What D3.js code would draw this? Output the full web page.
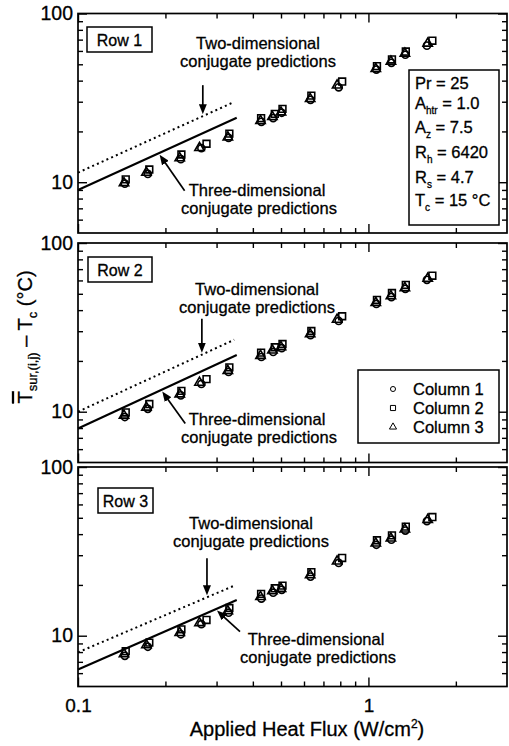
<!DOCTYPE html>
<html><head><meta charset="utf-8">
<script src="https://cdn.jsdelivr.net/npm/d3@7"></script>
<style>body{margin:0;background:#fff;} svg{display:block;font-family:"Liberation Sans",Arial,Helvetica,sans-serif;} svg text{stroke:#000;stroke-width:0.3px;}</style>
</head><body><svg id="c" width="509" height="746"></svg>
<script>
// ---------------- data ----------------
const rowNames = ["Row 1", "Row 2", "Row 3"];
const seriesNames = ["Column 1", "Column 2", "Column 3"];
const xTickLabels = ["0.1", "1"];
const yTickLabels = ["10", "100"];
const xTitle = "Applied Heat Flux (W/cm";
const annot2D = ["Two-dimensional", "conjugate predictions"];
const annot3D = ["Three-dimensional", "conjugate predictions"];

// applied heat flux (W/cm2) for each column's data points
const fluxCol1 = [0.145, 0.174, 0.226, 0.266, 0.330, 0.428, 0.470, 0.503, 0.632, 0.790, 1.065, 1.200, 1.340, 1.590];
const fluxCol2 = [0.146, 0.176, 0.227, 0.277, 0.332, 0.427, 0.476, 0.506, 0.636, 0.812, 1.070, 1.205, 1.345, 1.660];
const fluxCol3 = [0.144, 0.172, 0.224, 0.262, 0.328, 0.425, 0.467, 0.500, 0.630, 0.780, 1.060, 1.195, 1.335, 1.600];

// surface-minus-coolant temperature rise (°C)
const row1Col1 = [9.8, 11.2, 13.7, 15.9, 18.3, 22.8, 24.0, 25.8, 30.8, 36.5, 46.5, 51.0, 57.0, 64.5];
const row1Col2 = [10.4, 11.9, 14.6, 16.9, 19.4, 24.0, 25.4, 27.2, 32.6, 39.5, 48.8, 53.5, 59.5, 69.0];
const row1Col3 = [9.9, 11.4, 13.9, 16.0, 18.5, 23.1, 24.4, 26.0, 31.2, 37.5, 47.0, 52.0, 58.0, 66.5];

const row2Col1 = [9.3, 10.4, 12.5, 14.6, 17.2, 21.1, 22.6, 23.8, 28.4, 34.5, 43.5, 47.8, 53.5, 60.5];
const row2Col2 = [9.9, 11.1, 13.3, 15.6, 18.3, 22.4, 24.1, 25.2, 30.1, 36.8, 46.0, 50.5, 56.5, 64.0];
const row2Col3 = [9.5, 10.6, 12.7, 14.9, 17.5, 21.5, 23.1, 24.2, 28.9, 35.2, 44.3, 48.5, 54.2, 61.5];

const row3Col1 = [7.6, 8.6, 10.2, 11.7, 13.7, 16.6, 18.0, 18.7, 22.4, 27.0, 34.6, 37.1, 42.0, 47.8];
const row3Col2 = [8.1, 9.1, 10.9, 12.4, 14.6, 17.7, 19.1, 19.8, 23.8, 28.9, 36.8, 39.3, 44.3, 50.5];
const row3Col3 = [7.8, 8.8, 10.4, 11.9, 14.0, 17.0, 18.4, 19.0, 22.9, 27.6, 35.3, 37.8, 42.7, 48.7];

// conjugate predictions (end points of straight log-log lines)
const line2DFlux = [0.1, 0.345];
const line2DRow1 = [11.4, 29.9];
const line2DRow2 = [10.0, 26.7];
const line2DRow3 = [7.97, 19.8];
const line3DFlux = [0.1, 0.352];
const line3DRow1 = [9.0, 24.1];
const line3DRow2 = [7.95, 21.7];
const line3DRow3 = [6.3, 16.3];

// parameter box: [symbol, subscript, rest]
const paramMain = ["Pr", "A", "A", "R", "R", "T"];
const paramSub = ["", "htr", "z", "h", "s", "c"];
const paramRest = [" = 25", " = 1.0", " = 7.5", " = 6420", " = 4.7", " = 15 °C"];

// ---------------- layout ----------------
const svg = d3.select("#c");
const X0 = 78, X1 = 507, PH = 219.5;
const tops = [13.5, 243, 467];
const x = d3.scaleLog().domain([0.1, 3]).range([X0, X1]);
const xMajor = [0.1, 1], xMinor = [0.2, 0.3, 0.4, 0.5, 0.6, 0.7, 0.8, 0.9, 2];
const yMajor = [10, 100], yMinor = [6, 7, 8, 9, 20, 30, 40, 50, 60, 70, 80, 90];

const defs = svg.append("defs");
defs.append("marker").attr("id", "ah").attr("viewBox", "0 0 10 8")
  .attr("refX", 6).attr("refY", 4).attr("markerWidth", 10).attr("markerHeight", 8)
  .attr("markerUnits", "userSpaceOnUse").attr("orient", "auto")
  .append("path").attr("d", "M0,0L10,4L0,8z").attr("fill", "#000");

const fluxCols = [fluxCol1, fluxCol2, fluxCol3];
const symbols = [d3.symbolCircle, d3.symbolSquare, d3.symbolTriangle];
const symSize = [40, 46, 38];

const rows = [
  {cols: [row1Col1, row1Col2, row1Col3], l2: line2DRow1, l3: line3DRow1},
  {cols: [row2Col1, row2Col2, row2Col3], l2: line2DRow2, l3: line3DRow2},
  {cols: [row3Col1, row3Col2, row3Col3], l2: line2DRow3, l3: line3DRow3}
];

// label / arrow placement per panel (pixel layout)
const layout = [
  {box: [87, 27, 65, 25], t2: [258, 49, 67], a2: {q: 0.269, dy: -29}, t3: [257, 196, 214], a3: {q: 0.191, dx: 25, dy: 36}},
  {box: [88, 257, 64, 25], t2: [257, 295, 313], a2: {q: 0.267, dy: -34}, t3: [257, 425, 443], a3: {q: 0.195, dx: 23, dy: 32}},
  {box: [98, 488, 55, 25], t2: [251, 529, 547], a2: {q: 0.278, dy: -37}, t3: [316, 645, 663], a3: {q: 0.301, dx: 23, dy: 21}}
];

function lineAt(fx, vals, q) {
  const t = (Math.log(q) - Math.log(fx[0])) / (Math.log(fx[1]) - Math.log(fx[0]));
  return Math.exp(Math.log(vals[0]) + t * (Math.log(vals[1]) - Math.log(vals[0])));
}

function styleAxis(g, fs) {
  g.select(".domain").remove();
  g.attr("font-family", null).attr("font-size", null);
  g.selectAll(".tick line").attr("stroke", "#000").attr("stroke-width", 1.4);
  g.selectAll(".tick text").attr("fill", "#000").attr("font-size", fs);
}

rows.forEach((r, i) => {
  const top = tops[i];
  const y = d3.scaleLog().domain([5, 100]).range([top + PH, top]);
  const g = svg.append("g");
  const L = layout[i];

  // axes (ticks inward)
  const gb = g.append("g").attr("transform", `translate(0,${top + PH})`)
    .call(d3.axisBottom(x).tickValues(xMajor).tickSize(-9).tickPadding(12)
      .tickFormat(d => i === 2 ? xTickLabels[xMajor.indexOf(d)] : ""));
  styleAxis(gb, 19);
  styleAxis(g.append("g").attr("transform", `translate(0,${top + PH})`)
    .call(d3.axisBottom(x).tickValues(xMinor).tickSize(-5).tickFormat("")), 18);
  styleAxis(g.append("g").attr("transform", `translate(0,${top})`)
    .call(d3.axisTop(x).tickValues(xMajor).tickSize(-9).tickFormat("")), 18);
  styleAxis(g.append("g").attr("transform", `translate(0,${top})`)
    .call(d3.axisTop(x).tickValues(xMinor).tickSize(-5).tickFormat("")), 18);
  const gl = g.append("g").attr("transform", `translate(${X0},0)`)
    .call(d3.axisLeft(y).tickValues(yMajor).tickSize(-9).tickPadding(5)
      .tickFormat(d => yTickLabels[yMajor.indexOf(d)]));
  styleAxis(gl, 19.5);
  styleAxis(g.append("g").attr("transform", `translate(${X0},0)`)
    .call(d3.axisLeft(y).tickValues(yMinor).tickSize(-5).tickFormat("")), 18);
  styleAxis(g.append("g").attr("transform", `translate(${X1},0)`)
    .call(d3.axisRight(y).tickValues(yMajor).tickSize(-9).tickFormat("")), 18);
  styleAxis(g.append("g").attr("transform", `translate(${X1},0)`)
    .call(d3.axisRight(y).tickValues(yMinor).tickSize(-5).tickFormat("")), 18);

  // frame
  g.append("rect").attr("x", X0).attr("y", top).attr("width", X1 - X0).attr("height", PH)
    .attr("fill", "none").attr("stroke", "#000").attr("stroke-width", 1.7);

  // prediction lines
  const ln = d3.line().x(d => x(d[0])).y(d => y(d[1]));
  g.append("path").attr("d", ln(line2DFlux.map((f, k) => [f, r.l2[k]])))
    .attr("fill", "none").attr("stroke", "#000").attr("stroke-width", 2).attr("stroke-dasharray", "2,3.2");
  g.append("path").attr("d", ln(line3DFlux.map((f, k) => [f, r.l3[k]])))
    .attr("fill", "none").attr("stroke", "#000").attr("stroke-width", 2.1);

  // data markers
  r.cols.forEach((vals, c) => {
    g.append("g").selectAll("path").data(vals).join("path")
      .attr("transform", (d, k) => `translate(${x(fluxCols[c][k])},${y(d)})`)
      .attr("d", d3.symbol().type(symbols[c]).size(symSize[c]))
      .attr("fill", "none").attr("stroke", "#000").attr("stroke-width", 1.6);
  });

  // row label box
  g.append("rect").attr("x", L.box[0]).attr("y", L.box[1]).attr("width", L.box[2]).attr("height", L.box[3])
    .attr("fill", "#fff").attr("stroke", "#000").attr("stroke-width", 1.5);
  g.append("text").attr("x", L.box[0] + L.box[2] / 2).attr("y", L.box[1] + L.box[3] / 2 + 6)
    .attr("text-anchor", "middle").attr("font-size", 16).text(rowNames[i]);

  // annotations
  const txt = (cx, by, s) => g.append("text").attr("x", cx).attr("y", by).attr("text-anchor", "middle")
    .attr("font-size", 16.5).text(s);
  txt(L.t2[0], L.t2[1], annot2D[0]); txt(L.t2[0], L.t2[2], annot2D[1]);
  txt(L.t3[0], L.t3[1], annot3D[0]); txt(L.t3[0] + 2, L.t3[2], annot3D[1]);

  const tip2 = [x(L.a2.q), y(lineAt(line2DFlux, r.l2, L.a2.q)) - 2];
  const tail2 = [tip2[0], tip2[1] + L.a2.dy];
  const tip3 = [x(L.a3.q), y(lineAt(line3DFlux, r.l3, L.a3.q)) + 2];
  const tail3 = [tip3[0] + L.a3.dx, tip3[1] + L.a3.dy];
  [[tail2, tip2], [tail3, tip3]].forEach(([a, b]) => {
    const dx = b[0] - a[0], dy = b[1] - a[1], len = Math.hypot(dx, dy);
    g.append("line").attr("x1", a[0]).attr("y1", a[1])
      .attr("x2", b[0] - dx / len * 4).attr("y2", b[1] - dy / len * 4)
      .attr("stroke", "#000").attr("stroke-width", 1.7).attr("marker-end", "url(#ah)");
  });

  // parameter box (row 1)
  if (i === 0) {
    g.append("rect").attr("x", 409).attr("y", 70).attr("width", 90).attr("height", 155)
      .attr("fill", "#fff").attr("stroke", "#000").attr("stroke-width", 1.5);
    const base = [89, 109, 133, 158, 183, 206];
    paramMain.forEach((m, k) => {
      const t = g.append("text").attr("x", 415).attr("y", base[k]).attr("font-size", 16.5);
      t.append("tspan").text(m);
      if (paramSub[k]) t.append("tspan").attr("font-size", 10).attr("dy", 5).text(paramSub[k]);
      t.append("tspan").attr("dy", paramSub[k] ? -5 : 0).text(paramRest[k]);
    });
  }
  // legend (row 2)
  if (i === 1) {
    g.append("rect").attr("x", 358).attr("y", 370).attr("width", 141).attr("height", 73)
      .attr("fill", "#fff").attr("stroke", "#000").attr("stroke-width", 1.5);
    const ly = [389, 408, 427];
    seriesNames.forEach((s, k) => {
      g.append("path").attr("transform", `translate(393,${ly[k]})`)
        .attr("d", d3.symbol().type(symbols[k]).size([20, 26, 22][k]))
        .attr("fill", "none").attr("stroke", "#000").attr("stroke-width", 1);
      g.append("text").attr("x", 413).attr("y", ly[k] + 6).attr("font-size", 16.5).text(s);
    });
  }
});

// x title
const xt = svg.append("text").attr("x", 307).attr("y", 736).attr("text-anchor", "middle").attr("font-size", 20);
xt.append("tspan").text(xTitle);
xt.append("tspan").attr("font-size", 12).attr("dy", -8).text("2");
xt.append("tspan").attr("dy", 8).text(")");

// y title
const yt = svg.append("text").attr("transform", "translate(32,337) rotate(-90)")
  .attr("text-anchor", "middle").attr("font-size", 20);
yt.append("tspan").attr("text-decoration", "overline").text("T");
yt.append("tspan").attr("font-size", 13).attr("dy", 5).text("sur,(i,j)");
yt.append("tspan").attr("dy", -5).text(" – T");
yt.append("tspan").attr("font-size", 13).attr("dy", 5).text("c");
yt.append("tspan").attr("dy", -5).text(" (°C)");
</script>
</body></html>
